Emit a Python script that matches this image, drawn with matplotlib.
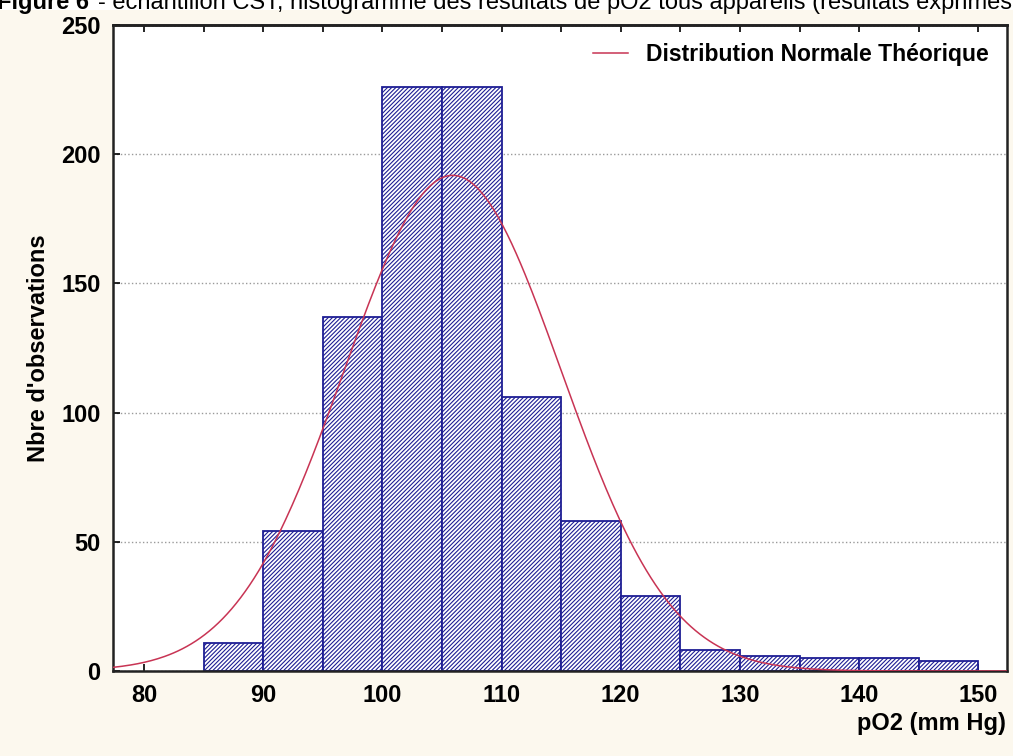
import numpy as np
import matplotlib
matplotlib.use("Agg")
import matplotlib.pyplot as plt
from matplotlib.patches import Rectangle

# histogram of pO2 results, bins of 5 mm Hg
bin_left = [85, 90, 95, 100, 105, 110, 115, 120, 125, 130, 135, 140, 145]
counts = [11, 54, 137, 226, 226, 106, 58, 29, 8, 6, 5, 5, 4]
bin_width = 5

# fitted normal curve parameters
mu = 105.9
sigma = 9.1

x_ticks = [80, 90, 100, 110, 120, 130, 140, 150]
y_ticks = [0, 50, 100, 150, 200, 250]

navy = "#1e1e94"
cream = "#fcf8ee"
sans = ["Liberation Sans", "DejaVu Sans"]

plt.rcParams["hatch.linewidth"] = 0.8
plt.rcParams["hatch.color"] = "#1a1a66"

fig = plt.figure(figsize=(10.13, 7.56), dpi=100, facecolor=cream)
ax = fig.add_axes([0.1115, 0.1124, 0.8825, 0.8546])
ax.set_facecolor("white")

# white strip with the caption, half hidden above the top edge
fig.patches.append(Rectangle((0, 0.987), 1, 0.013, transform=fig.transFigure,
                             facecolor="white", edgecolor="none", zorder=-1))
cap = fig.text(-0.003, 0.9885, "Figure 6 ", fontsize=17, family=sans,
               fontweight="bold", va="baseline", ha="left")
cap_rest = fig.text(0, 0, "- échantillon CST, histogramme des résultats de pO2 tous appareils "
                    "(résultats exprimés en mm Hg)", fontsize=17, family=sans,
                    va="baseline", ha="left")
fig.canvas.draw()
bb = cap.get_window_extent()
cap_rest.set_position(((bb.x1 + 2) / fig.bbox.width, 0.9885))

ax.bar(bin_left, counts, width=bin_width, align="edge", facecolor="white",
       edgecolor=navy, hatch="////////", linewidth=1.3, zorder=2)

n_obs = sum(counts)
xs = np.linspace(77.4, 152.4, 400)
curve = n_obs * bin_width / (sigma * np.sqrt(2 * np.pi)) * np.exp(-0.5 * ((xs - mu) / sigma) ** 2)
ax.plot(xs, curve, color="#c83454", linewidth=1.1, zorder=3,
        label="Distribution Normale Théorique")

ax.set_xlim(77.4, 152.4)
ax.set_ylim(0, 250)
ax.set_xticks(x_ticks)
ax.set_yticks(y_ticks)
ax.yaxis.grid(True, linestyle=":", color="#9a9a9a", linewidth=1, zorder=0)
ax.set_axisbelow(True)

ax.tick_params(axis="both", direction="in", length=5, width=1.2, pad=9)
for lbl in ax.get_xticklabels() + ax.get_yticklabels():
    lbl.set_family(sans)
    lbl.set_fontweight("bold")
    lbl.set_fontsize(17)

# top edge carries a tick at every bin boundary
top = ax.secondary_xaxis("top")
top.set_xticks(np.arange(80, 151, 5))
top.tick_params(direction="in", length=5, width=1.2, labeltop=False)

for s in ax.spines.values():
    s.set_linewidth(1.8)
    s.set_color("#222222")
top.spines["top"].set_linewidth(1.8)

ax.set_ylabel("Nbre d'observations", family=sans, fontweight="bold", fontsize=17, labelpad=8)
fig.text(0.993, 0.035, "pO2 (mm Hg)", family=sans, fontweight="bold",
         fontsize=17, ha="right", va="baseline")

leg = ax.legend(loc="upper right", frameon=False, handlelength=1.5,
                prop={"family": sans, "weight": "bold", "size": 16.5},
                borderaxespad=0.4)

fig.savefig("out.png", dpi=100, facecolor=cream)
